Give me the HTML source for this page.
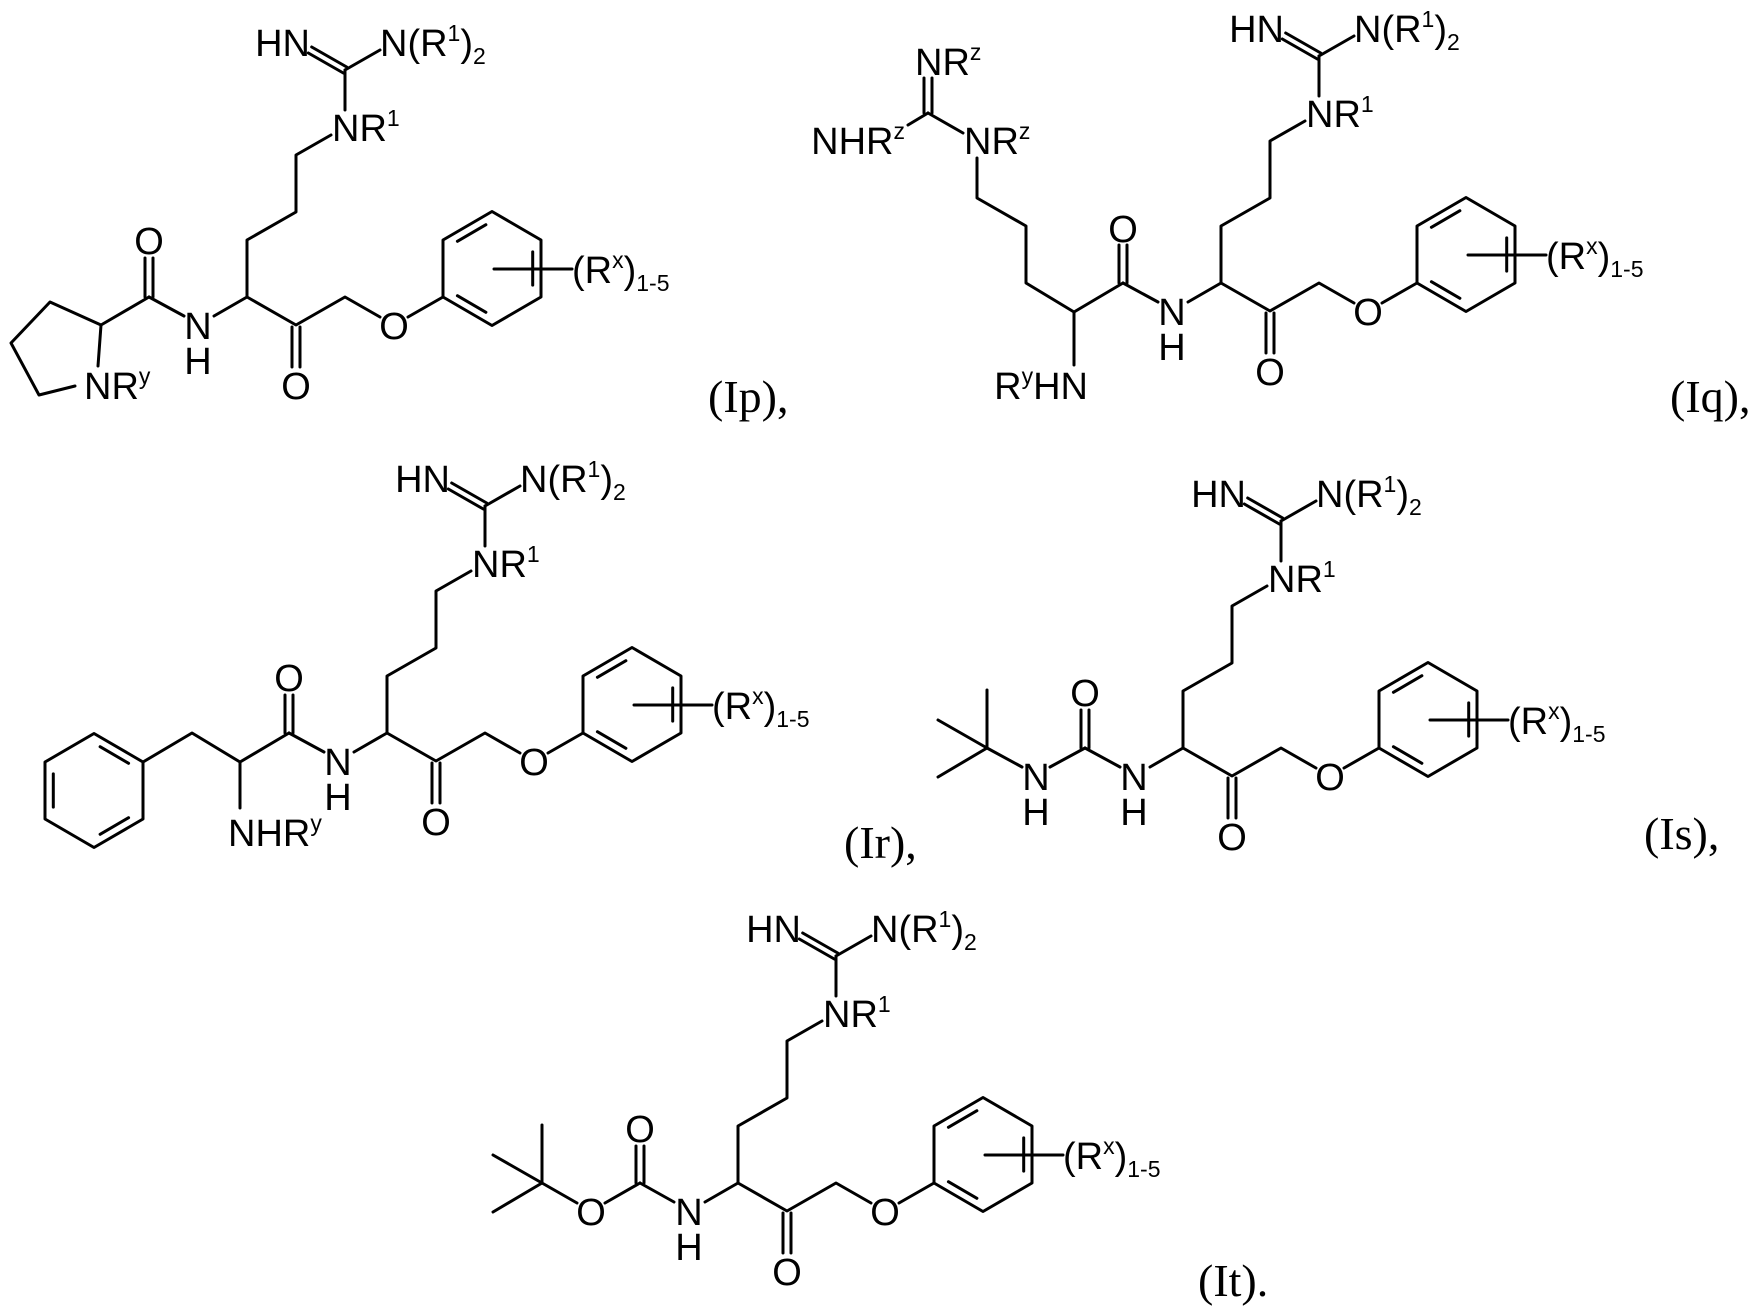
<!DOCTYPE html>
<html><head><meta charset="utf-8"><style>
html,body{margin:0;padding:0;background:#fff;}
svg{display:block;}
text{font-family:"Liberation Sans",Arial,sans-serif;font-size:38px;fill:#000;}
tspan[font-size]{font-size:23px;}
.lb{font-family:"Liberation Serif","Times New Roman",serif;font-size:46px;}
line,polyline,polygon{stroke:#000;stroke-width:3;fill:none;stroke-linecap:round;stroke-linejoin:round;}
</style></head><body>
<svg width="1763" height="1309" viewBox="0 0 1763 1309" xmlns="http://www.w3.org/2000/svg">
<defs>
<g id="ring">
<polygon points="-49,28.5 -49,-28.5 0,-57 49,-28.5 49,28.5 0,57"/>
<line x1="-34.6" y1="-27.2" x2="-6.1" y2="-43.8"/>
<line x1="40.7" y1="-16.6" x2="40.7" y2="16.6"/>
<line x1="-6.1" y1="43.8" x2="-34.6" y2="27.2"/>
</g>
<g id="corelines">
<polyline points="84,-162 49,-142 49,-85 0,-57 0,0 49,28 98,0 133,20"/>
<line x1="98" y1="-187" x2="98" y2="-227"/>
<line x1="99.7" y1="-230" x2="64.7" y2="-250"/>
<line x1="96.3" y1="-224" x2="61.3" y2="-244"/>
<line x1="98" y1="-227" x2="133" y2="-247"/>
<line x1="45" y1="30" x2="45" y2="70"/>
<line x1="53" y1="30" x2="53" y2="70"/>
<line x1="161" y1="20" x2="196" y2="0"/>
<use href="#ring" x="245" y="-28.5"/>
<line x1="247" y1="-28" x2="325" y2="-28"/>
<line x1="0" y1="0" x2="-33" y2="19"/>
</g>
</defs>

<!-- ===== Ip ===== -->
<g transform="translate(247,297)">
<use href="#corelines"/>
<text x="85" y="-156">NR<tspan dy="-15" font-size="23">1</tspan></text>
<text x="63" y="-241" text-anchor="end">HN</text>
<text x="133" y="-241">N(R<tspan dy="-15" font-size="23">1</tspan><tspan dy="15">)</tspan><tspan dy="8" font-size="23">2</tspan></text>
<text x="49" y="102" text-anchor="middle">O</text>
<text x="147" y="42" text-anchor="middle">O</text>
<text x="325" y="-14">(R<tspan dy="-15" font-size="23">x</tspan><tspan dy="15">)</tspan><tspan dy="8" font-size="23">1-5</tspan></text>
<text x="-49" y="42" text-anchor="middle">N</text>
<text x="-49" y="77" text-anchor="middle">H</text>
</g>
<line x1="184" y1="316" x2="149" y2="297"/>
<line x1="145" y1="297" x2="145" y2="258"/>
<line x1="153" y1="297" x2="153" y2="258"/>
<text x="149" y="254" text-anchor="middle">O</text>
<polyline points="149,297 101,325 50,302 11,343 39,395 75,386"/>
<line x1="101" y1="325" x2="98" y2="366"/>
<text x="84" y="399">NR<tspan dy="-15" font-size="23">y</tspan></text>
<text class="lb" x="708" y="412">(Ip),</text>

<!-- ===== Iq ===== -->
<g transform="translate(1221,283)">
<use href="#corelines"/>
<text x="85" y="-156">NR<tspan dy="-15" font-size="23">1</tspan></text>
<text x="63" y="-241" text-anchor="end">HN</text>
<text x="133" y="-241">N(R<tspan dy="-15" font-size="23">1</tspan><tspan dy="15">)</tspan><tspan dy="8" font-size="23">2</tspan></text>
<text x="49" y="102" text-anchor="middle">O</text>
<text x="147" y="42" text-anchor="middle">O</text>
<text x="325" y="-14">(R<tspan dy="-15" font-size="23">x</tspan><tspan dy="15">)</tspan><tspan dy="8" font-size="23">1-5</tspan></text>
<text x="-49" y="42" text-anchor="middle">N</text>
<text x="-49" y="77" text-anchor="middle">H</text>
</g>
<line x1="1158" y1="302" x2="1123" y2="283"/>
<line x1="1119" y1="283" x2="1119" y2="245"/>
<line x1="1127" y1="283" x2="1127" y2="245"/>
<text x="1123" y="242" text-anchor="middle">O</text>
<polyline points="1123,283 1074,312 1026,283 1026,226 977,198 977,158"/>
<line x1="1074" y1="312" x2="1074" y2="365"/>
<text x="1088" y="399" text-anchor="end">R<tspan dy="-15" font-size="23">y</tspan><tspan dy="15">HN</tspan></text>
<text x="964" y="154">NR<tspan dy="-15" font-size="23">z</tspan></text>
<line x1="963" y1="133" x2="928" y2="113"/>
<line x1="924" y1="113" x2="924" y2="78"/>
<line x1="932" y1="113" x2="932" y2="78"/>
<text x="915" y="75">NR<tspan dy="-15" font-size="23">z</tspan></text>
<line x1="928" y1="113" x2="908" y2="125"/>
<text x="905" y="154" text-anchor="end">NHR<tspan dy="-15" font-size="23">z</tspan></text>
<text class="lb" x="1670" y="412">(Iq),</text>

<!-- ===== Ir ===== -->
<g transform="translate(387,733)">
<use href="#corelines"/>
<text x="85" y="-156">NR<tspan dy="-15" font-size="23">1</tspan></text>
<text x="63" y="-241" text-anchor="end">HN</text>
<text x="133" y="-241">N(R<tspan dy="-15" font-size="23">1</tspan><tspan dy="15">)</tspan><tspan dy="8" font-size="23">2</tspan></text>
<text x="49" y="102" text-anchor="middle">O</text>
<text x="147" y="42" text-anchor="middle">O</text>
<text x="325" y="-14">(R<tspan dy="-15" font-size="23">x</tspan><tspan dy="15">)</tspan><tspan dy="8" font-size="23">1-5</tspan></text>
<text x="-49" y="42" text-anchor="middle">N</text>
<text x="-49" y="77" text-anchor="middle">H</text>
</g>
<line x1="324" y1="752" x2="289" y2="733"/>
<line x1="285" y1="733" x2="285" y2="695"/>
<line x1="293" y1="733" x2="293" y2="695"/>
<text x="289" y="691" text-anchor="middle">O</text>
<polyline points="289,733 240,762 192,733 143,762"/>
<line x1="240" y1="762" x2="240" y2="808"/>
<text x="228" y="846">NHR<tspan dy="-15" font-size="23">y</tspan></text>
<g transform="translate(94,790.5) scale(-1,1)"><use href="#ring"/></g>
<text class="lb" x="844" y="858">(Ir),</text>

<!-- ===== Is ===== -->
<g transform="translate(1183,748)">
<use href="#corelines"/>
<text x="85" y="-156">NR<tspan dy="-15" font-size="23">1</tspan></text>
<text x="63" y="-241" text-anchor="end">HN</text>
<text x="133" y="-241">N(R<tspan dy="-15" font-size="23">1</tspan><tspan dy="15">)</tspan><tspan dy="8" font-size="23">2</tspan></text>
<text x="49" y="102" text-anchor="middle">O</text>
<text x="147" y="42" text-anchor="middle">O</text>
<text x="325" y="-14">(R<tspan dy="-15" font-size="23">x</tspan><tspan dy="15">)</tspan><tspan dy="8" font-size="23">1-5</tspan></text>
<text x="-49" y="42" text-anchor="middle">N</text>
<text x="-49" y="77" text-anchor="middle">H</text>
</g>
<line x1="1120" y1="767" x2="1085" y2="748"/>
<line x1="1081" y1="748" x2="1081" y2="710"/>
<line x1="1089" y1="748" x2="1089" y2="710"/>
<text x="1085" y="706" text-anchor="middle">O</text>
<line x1="1085" y1="748" x2="1050" y2="767"/>
<text x="1036" y="790" text-anchor="middle">N</text>
<text x="1036" y="825" text-anchor="middle">H</text>
<line x1="1022" y1="767" x2="987" y2="748"/>
<line x1="987" y1="748" x2="987" y2="690"/>
<line x1="987" y1="748" x2="938" y2="720"/>
<line x1="987" y1="748" x2="938" y2="777"/>
<text class="lb" x="1644" y="849">(Is),</text>

<!-- ===== It ===== -->
<g transform="translate(738,1183)">
<use href="#corelines"/>
<text x="85" y="-156">NR<tspan dy="-15" font-size="23">1</tspan></text>
<text x="63" y="-241" text-anchor="end">HN</text>
<text x="133" y="-241">N(R<tspan dy="-15" font-size="23">1</tspan><tspan dy="15">)</tspan><tspan dy="8" font-size="23">2</tspan></text>
<text x="49" y="102" text-anchor="middle">O</text>
<text x="147" y="42" text-anchor="middle">O</text>
<text x="325" y="-14">(R<tspan dy="-15" font-size="23">x</tspan><tspan dy="15">)</tspan><tspan dy="8" font-size="23">1-5</tspan></text>
<text x="-49" y="42" text-anchor="middle">N</text>
<text x="-49" y="77" text-anchor="middle">H</text>
</g>
<line x1="674" y1="1202" x2="640" y2="1183"/>
<line x1="636" y1="1183" x2="636" y2="1146"/>
<line x1="644" y1="1183" x2="644" y2="1146"/>
<text x="640" y="1142" text-anchor="middle">O</text>
<line x1="640" y1="1183" x2="605" y2="1203"/>
<text x="591" y="1225" text-anchor="middle">O</text>
<line x1="577" y1="1203" x2="542" y2="1183"/>
<line x1="542" y1="1183" x2="542" y2="1125"/>
<line x1="542" y1="1183" x2="493" y2="1155"/>
<line x1="542" y1="1183" x2="493" y2="1212"/>
<text class="lb" x="1198" y="1296">(It).</text>
</svg>
</body></html>
